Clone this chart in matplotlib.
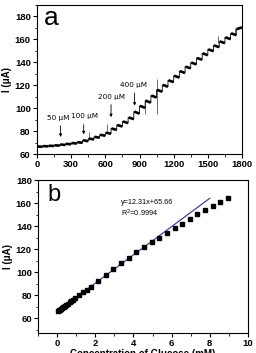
import matplotlib
matplotlib.use("Agg")
import matplotlib.pyplot as plt
import numpy as np
from matplotlib.ticker import MultipleLocator

plt.rcParams['font.family'] = ['Liberation Sans', 'DejaVu Sans']

# ---------- panel a data (amperometric i-t staircase) ----------
step_times = [0, 50, 100, 150, 200, 250, 300, 350, 400, 450, 500, 550, 600,
              650, 700, 750, 800, 850, 900, 950, 1000, 1050, 1100, 1150, 1200,
              1250, 1300, 1350, 1400, 1450, 1500, 1550, 1600, 1650, 1700, 1750]
step_end_times = [50, 100, 150, 200, 250, 300, 350, 400, 450, 500, 550, 600, 650,
                  700, 750, 800, 850, 900, 950, 1000, 1050, 1100, 1150, 1200, 1250,
                  1300, 1350, 1400, 1450, 1500, 1550, 1600, 1650, 1700, 1750, 1800]
step_start_levels = [66.5, 66.9, 67.2, 67.6, 68.3, 68.9, 69.6, 70.3, 72.0, 73.5, 75.0, 76.8, 78.6,
                     82.3, 85.3, 88.4, 91.9, 97.0, 102.0, 106.5, 111.0, 116.0, 120.3, 124.3, 128.3,
                     132.3, 136.3, 139.8, 143.8, 147.8, 151.3, 154.8, 158.3, 161.8, 165.3, 169.0]
step_end_levels = [66.4, 66.7, 67.0, 67.3, 67.9, 68.5, 69.1, 69.8, 71.2, 72.7, 74.2, 75.9, 77.7,
                   81.0, 84.0, 87.0, 90.4, 95.2, 100.3, 104.8, 109.3, 114.3, 118.7, 122.7, 126.7,
                   130.7, 134.7, 138.2, 142.2, 146.2, 149.7, 153.2, 156.7, 160.2, 163.7, 170.5]
spike_times = [453, 613, 950, 1058, 1593, 1740]
spike_low = [72, 80, 95, 95, 157, 166]
spike_high = [79, 86, 108, 125, 163, 170]

arrow_labels = ["50 \u03bcM", "100 \u03bcM", "200 \u03bcM", "400 \u03bcM"]
arrow_times = [207, 410, 650, 857]
arrow_tail = [87, 88, 105.5, 115.7]
arrow_head = [72.4, 74.7, 89.7, 99.8]
label_times = [190, 418, 657, 848]
label_levels = [91.5, 93.5, 109.5, 120.5]

# ---------- panel b data (calibration) ----------
conc = [0.05, 0.10, 0.15, 0.20, 0.25, 0.30, 0.35, 0.40, 0.45, 0.55, 0.65, 0.75, 0.85,
        0.95, 1.15, 1.35, 1.55, 1.75, 2.15, 2.55, 2.95, 3.35, 3.75, 4.15, 4.55,
        4.95, 5.35, 5.75, 6.15, 6.55, 6.95, 7.35, 7.75, 8.15, 8.55, 8.95]
current = [66.5, 66.9, 67.4, 68.0, 68.6, 69.3, 69.9, 70.5, 71.1, 72.3, 73.6, 74.8, 76.0,
           77.0, 79.8, 82.3, 84.8, 87.4, 92.5, 97.5, 102.6, 107.8, 112.4, 117.2, 121.4,
           125.7, 129.6, 133.8, 138.0, 142.0, 146.2, 150.2, 153.5, 157.2, 160.6, 164.0]
fit_slope = 12.31
fit_intercept = 65.66
fit_x = [0.0, 8.0]

W, H = 256, 353
fig = plt.figure(figsize=(W / 100, H / 100), dpi=100)

tick_fs = 6.8

def style(ax):
    ax.tick_params(which='major', direction='out', length=3, width=0.8, labelsize=tick_fs, pad=1.5)
    ax.tick_params(which='minor', direction='out', length=1.8, width=0.6)
    ax.tick_params(top=False, right=False)
    for lab in ax.get_xticklabels() + ax.get_yticklabels():
        lab.set_fontweight('bold')
    for s in ax.spines.values():
        s.set_linewidth(0.8)

# panel a
ax1 = fig.add_axes([37 / W, 1 - 154 / H, 205 / W, 149 / H])
tt, ll = [], []
for t0, t1, y0, y1 in zip(step_times, step_end_times, step_start_levels, step_end_levels):
    tt += [t0, t1]
    ll += [y0, y1]
ax1.plot(tt, ll, color='black', lw=0.6)
for t0, t1, y0, y1 in zip(step_times, step_end_times, step_start_levels, step_end_levels):
    ax1.plot([t0 + 4, t1], [y0, y1], color='black', lw=1.9, solid_capstyle='butt')
ax1.vlines(spike_times, spike_low, spike_high, color='black', lw=0.4)
for lab, t, yt, yh, lt, lv in zip(arrow_labels, arrow_times, arrow_tail, arrow_head, label_times, label_levels):
    ax1.annotate('', xy=(t, yh), xytext=(t, yt),
                 arrowprops=dict(arrowstyle='-|>', color='black', lw=0.6, mutation_scale=4))
    ax1.text(lt, lv, lab, fontsize=5.2, ha='center', va='center', family=['DejaVu Sans'])
ax1.set_xlim(0, 1800)
ax1.set_ylim(60, 190)
ax1.xaxis.set_major_locator(MultipleLocator(300))
ax1.xaxis.set_minor_locator(MultipleLocator(150))
ax1.yaxis.set_major_locator(MultipleLocator(20))
ax1.yaxis.set_minor_locator(MultipleLocator(10))
ax1.set_ylabel('I (\u03bcA)', fontsize=7, fontweight='bold', labelpad=2)
ax1.text(0.07, 0.91, 'a', transform=ax1.transAxes, fontsize=19, ha='center', va='center')
style(ax1)

# panel b
ax2 = fig.add_axes([38 / W, 1 - 333 / H, 210 / W, 153 / H])
fx = np.array(fit_x)
ax2.plot(fx, fit_slope * fx + fit_intercept, color='#2b2bb0', lw=0.8, zorder=2)
ax2.plot(conc, current, 's', color='black', ms=2.2, zorder=3)
ax2.set_xlim(-1, 10)
ax2.set_ylim(47, 180)
ax2.xaxis.set_major_locator(MultipleLocator(2))
ax2.xaxis.set_minor_locator(MultipleLocator(1))
ax2.yaxis.set_major_locator(MultipleLocator(20))
ax2.yaxis.set_minor_locator(MultipleLocator(10))
ax2.set_ylabel('I (\u03bcA)', fontsize=7, fontweight='bold', labelpad=2)
ax2.set_xlabel('Concentration of Glucose (mM)', fontsize=7, fontweight='bold', labelpad=0.3)
ax2.text(0.075, 0.9, 'b', transform=ax2.transAxes, fontsize=17, ha='center', va='center')
ax2.text(0.395, 0.855, 'y=12.31x+65.66', transform=ax2.transAxes, fontsize=5.2, ha='left', va='center')
ax2.text(0.395, 0.785, 'R$^2$=0.9994', transform=ax2.transAxes, fontsize=5.2, ha='left', va='center')
style(ax2)

fig.savefig('out.png', dpi=100)
